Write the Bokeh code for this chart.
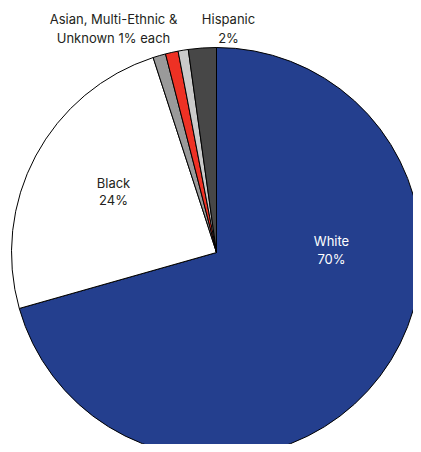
import math
from bokeh.plotting import figure
from bokeh.models import Range1d, ColumnDataSource
from bokeh.core.properties import value
from bokeh.embed import file_html
from bokeh.resources import INLINE

# ---- data ----
categories = ["White", "Black", "Asian", "Multi-Ethnic", "Unknown", "Hispanic"]
shares = [70.6, 24.4, 1.0, 1.0, 0.8, 2.2]
colors = ["#243f8e", "#ffffff", "#9a9a9a", "#ee3124", "#cacaca", "#474747"]

label_lines = {
    "White": ["White", "70%"],
    "Black": ["Black", "24%"],
    "Small": ["Asian, Multi-Ethnic &", "Unknown 1% each"],
    "Hispanic": ["Hispanic", "2%"],
}

# ---- layout (screen-pixel like coordinates; y negated) ----
W, H = 413, 444
CX, CY, R = 216, 252, 205

total = sum(shares)
starts, ends = [], []
acc = 0.0
for s in shares:
    a0 = math.pi / 2 - 2 * math.pi * acc / total
    acc += s
    a1 = math.pi / 2 - 2 * math.pi * acc / total
    starts.append(a0)
    ends.append(a1)

src = ColumnDataSource(dict(cat=categories, start=starts, end=ends, color=colors))

p = figure(width=W, height=H, output_backend="svg", toolbar_location=None,
           x_range=Range1d(0, W), y_range=Range1d(-H, 0),
           min_border=0, border_fill_color="white", background_fill_color="white")
p.axis.visible = False
p.grid.visible = False
p.outline_line_color = None

p.wedge(x=CX, y=-CY, radius=R, start_angle="start", end_angle="end",
        direction="clock", fill_color="color", line_color="black", line_width=1,
        source=src)

font = value("Inter")
def put(lines, x, ys, color):
    for t, y in zip(lines, ys):
        p.text(x=[x], y=[-y], text=[t], text_align="center", text_baseline="middle",
               text_font=font, text_font_size="13px", text_color=color)

put(label_lines["White"], 331, [240, 258], "white")
put(label_lines["Black"], 113, [182, 199], "#231f20")
put(label_lines["Small"], 113, [18, 37], "#231f20")
put(label_lines["Hispanic"], 228, [18, 37], "#231f20")

open("out.html", "w").write(file_html(p, INLINE))
